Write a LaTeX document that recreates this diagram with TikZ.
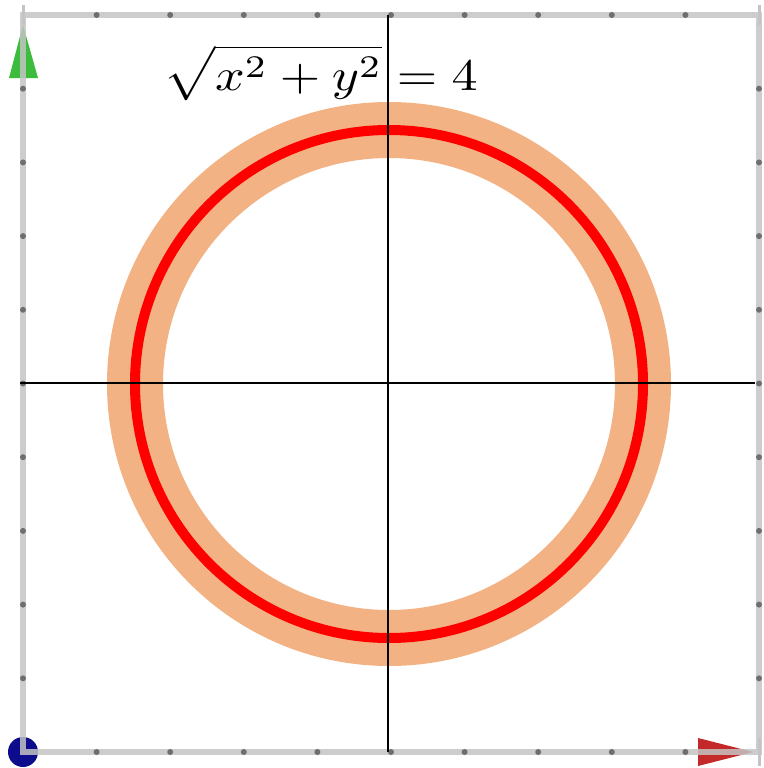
\documentclass[tikz,border=0pt]{standalone}
\usepackage{amsmath}
\usepackage{graphicx}
\definecolor{bandorange}{RGB}{243,178,131}
\definecolor{framegray}{RGB}{196,196,196}
\definecolor{tickgray}{RGB}{110,110,110}
\definecolor{arrowgreen}{RGB}{60,188,60}
\definecolor{arrowred}{RGB}{196,40,40}
\definecolor{originblue}{RGB}{12,12,140}
\tikzset{
  framestyle/.style={draw=framegray, line width=6pt},
  tickdot/.style={circle, fill=tickgray, inner sep=0pt, minimum size=6pt},
  axisstyle/.style={draw=black, line width=2.4pt},
}
\begin{document}
\begin{tikzpicture}[x=1pt,y=-1pt]
\useasboundingbox (0,0) rectangle (763,768);
% band and circle
\draw[bandorange, line width=56pt] (389,384) circle[radius=254];
\draw[red, line width=10pt] (389,384) circle[radius=254];
% corner markers
\fill[arrowgreen] (23,25) -- (38,78) -- (9,78) -- cycle;
\fill[arrowred] (753,752) -- (698,766) -- (698,738) -- cycle;
\fill[originblue] (23,752) circle[radius=15];
% frame
\coordinate (tl) at (23,15);
\coordinate (tr) at (759,15);
\coordinate (br) at (759,752);
\coordinate (bl) at (23,752);
\draw[framestyle, opacity=0.85] (tl) -- (tr) -- (br) -- (bl) -- cycle;
\draw[framegray, line width=3pt] (23,5) -- (23,25) (759,5) -- (759,25) (759,738) -- (759,766);
\foreach \i in {1,...,9}{
  \node[tickdot] at ({23+73.6*\i},15) {};
  \node[tickdot] at ({23+73.6*\i},752) {};
  \node[tickdot] at (23,{15+73.7*\i}) {};
  \node[tickdot] at (759,{15+73.7*\i}) {};
}
% axes
\coordinate (xl) at (20,383);
\coordinate (xr) at (755,383);
\coordinate (yt) at (388,15);
\coordinate (yb) at (388,752);
\draw[axisstyle] (xl) -- (xr);
\draw[axisstyle] (yt) -- (yb);
% label
\node[anchor=base west, inner sep=0pt] (eq) at (163,90) {\scalebox{5.2}[4.5]{$\displaystyle\sqrt{x^2+y^2}=4$}};
\end{tikzpicture}
\end{document}
